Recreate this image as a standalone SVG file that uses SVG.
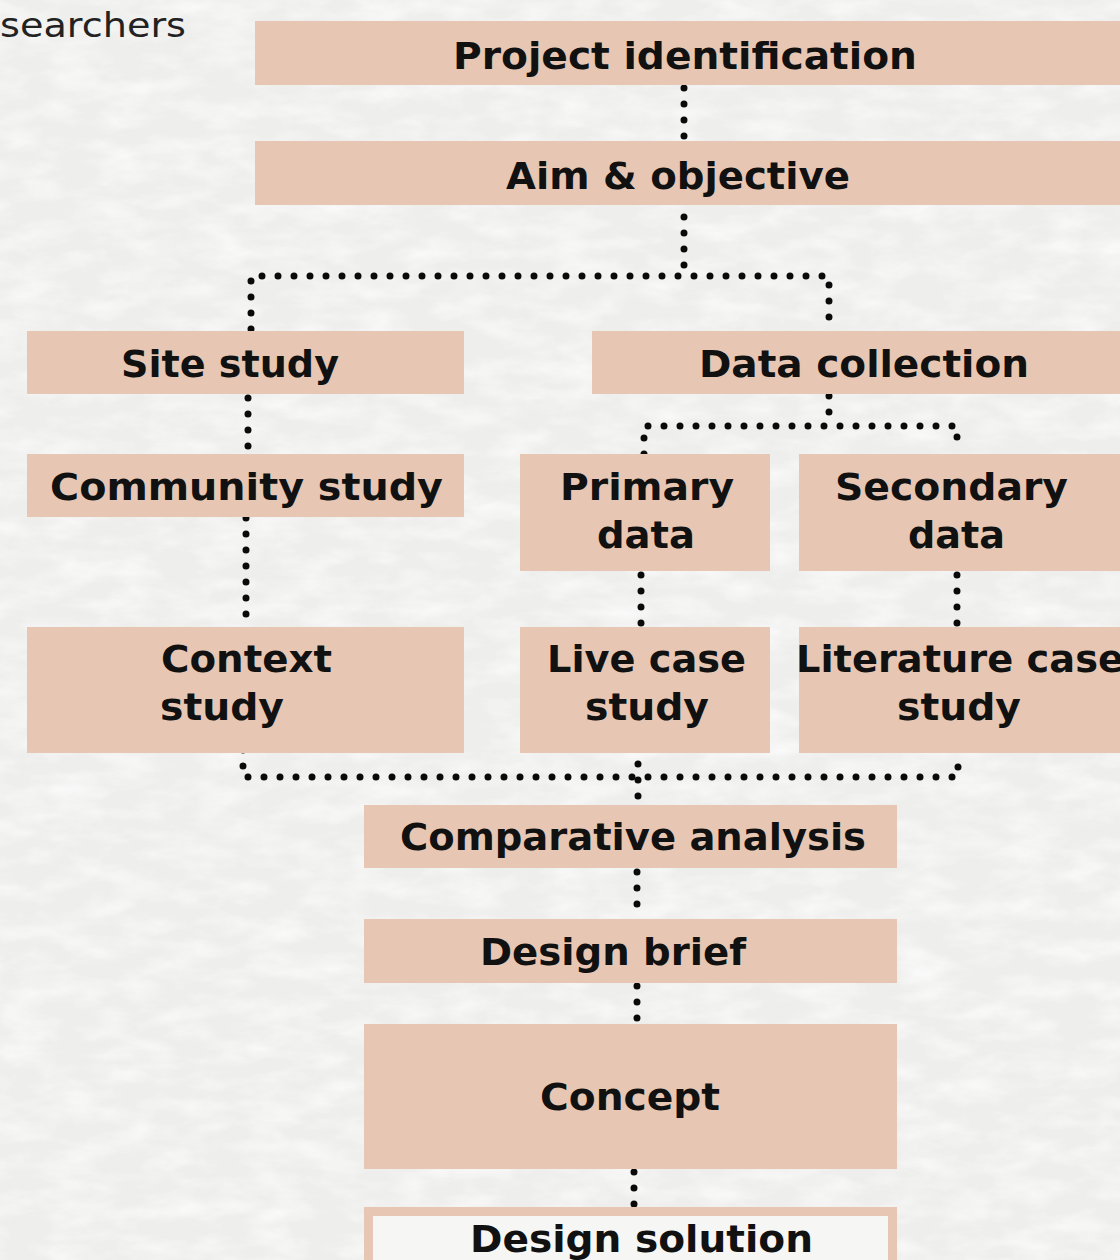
<svg xmlns="http://www.w3.org/2000/svg" width="1120" height="1260" viewBox="0 0 1120 1260">
  <defs>
    <filter id="paper" x="0" y="0" width="100%" height="100%">
      <feTurbulence type="fractalNoise" baseFrequency="0.02 0.05" numOctaves="4" seed="7" result="n"/>
      <feColorMatrix type="matrix" values="0 0 0 0 1  0 0 0 0 1  0 0 0 0 1  0 0 0 -1.6 1"/>
    </filter>
    <style>
      .box { fill: #e7c7b3; }
      .lbl { font-family: "DejaVu Sans", "Liberation Sans", sans-serif; font-weight: 700; font-size: 38px; fill: #111111; }
      .side { font-family: "DejaVu Sans", "Liberation Sans", sans-serif; font-weight: 400; font-size: 33px; fill: #222222; }
      .dots { fill: none; stroke: #0a0a0a; stroke-width: 7; stroke-linecap: round; stroke-dasharray: 0 16; }
    </style>
  </defs>

  <!-- paper background -->
  <rect width="1120" height="1260" fill="#eeeeed"/>
  <rect width="1120" height="1260" filter="url(#paper)" opacity="0.8"/>

  <text class="side" x="0" y="37" textLength="186" lengthAdjust="spacingAndGlyphs">searchers</text>

  <!-- dotted connectors -->
  <g id="connectors">
    <path class="dots" d="M684 88 V137"/>
    <path class="dots" d="M684 201 V276"/>
    <path class="dots" d="M251 329 V276 H829 V318"/>
    <path class="dots" d="M248 398 V447"/>
    <path class="dots" d="M246 518 V615"/>
    <path class="dots" d="M829 396 V426"/>
    <path class="dots" d="M644 454 V426 H957 V440"/>
    <path class="dots" d="M641 575 V624"/>
    <path class="dots" d="M957 575 V624"/>
    <path class="dots" d="M243 750 V777 H958 V765"/>
    <path class="dots" d="M638 748 V797"/>
    <path class="dots" d="M637 872 V905"/>
    <path class="dots" d="M637 986 V1019"/>
    <path class="dots" d="M634 1172 V1205"/>
  </g>

  <g id="project-identification">
    <rect class="box" x="255" y="21" width="865" height="64"/>
    <text class="lbl" x="453" y="69" textLength="464" lengthAdjust="spacingAndGlyphs">Project identification</text>
  </g>

  <g id="aim-objective">
    <rect class="box" x="255" y="141" width="865" height="64"/>
    <text class="lbl" x="506" y="189" textLength="344" lengthAdjust="spacingAndGlyphs">Aim &amp; objective</text>
  </g>

  <g id="site-study">
    <rect class="box" x="27" y="331" width="437" height="63"/>
    <text class="lbl" x="121" y="377" textLength="218" lengthAdjust="spacingAndGlyphs">Site study</text>
  </g>

  <g id="data-collection">
    <rect class="box" x="592" y="331" width="528" height="63"/>
    <text class="lbl" x="699" y="377" textLength="330" lengthAdjust="spacingAndGlyphs">Data collection</text>
  </g>

  <g id="community-study">
    <rect class="box" x="27" y="454" width="437" height="63"/>
    <text class="lbl" x="50" y="500" textLength="393" lengthAdjust="spacingAndGlyphs">Community study</text>
  </g>

  <g id="primary-data">
    <rect class="box" x="520" y="454" width="250" height="117"/>
    <text class="lbl" x="560" y="500" textLength="174" lengthAdjust="spacingAndGlyphs">Primary</text>
    <text class="lbl" x="597" y="548" textLength="98" lengthAdjust="spacingAndGlyphs">data</text>
  </g>

  <g id="secondary-data">
    <rect class="box" x="799" y="454" width="321" height="117"/>
    <text class="lbl" x="835" y="500" textLength="233" lengthAdjust="spacingAndGlyphs">Secondary</text>
    <text class="lbl" x="908" y="548" textLength="97" lengthAdjust="spacingAndGlyphs">data</text>
  </g>

  <g id="context-study">
    <rect class="box" x="27" y="627" width="437" height="126"/>
    <text class="lbl" x="161" y="672" textLength="171" lengthAdjust="spacingAndGlyphs">Context</text>
    <text class="lbl" x="160" y="720" textLength="124" lengthAdjust="spacingAndGlyphs">study</text>
  </g>

  <g id="live-case-study">
    <rect class="box" x="520" y="627" width="250" height="126"/>
    <text class="lbl" x="547" y="672" textLength="199" lengthAdjust="spacingAndGlyphs">Live case</text>
    <text class="lbl" x="585" y="720" textLength="124" lengthAdjust="spacingAndGlyphs">study</text>
  </g>

  <g id="literature-case-study">
    <rect class="box" x="799" y="627" width="321" height="126"/>
    <text class="lbl" x="796" y="672" textLength="328" lengthAdjust="spacingAndGlyphs">Literature case</text>
    <text class="lbl" x="897" y="720" textLength="124" lengthAdjust="spacingAndGlyphs">study</text>
  </g>

  <g id="comparative-analysis">
    <rect class="box" x="364" y="805" width="533" height="63"/>
    <text class="lbl" x="400" y="850" textLength="466" lengthAdjust="spacingAndGlyphs">Comparative analysis</text>
  </g>

  <g id="design-brief">
    <rect class="box" x="364" y="919" width="533" height="64"/>
    <text class="lbl" x="480" y="965" textLength="266" lengthAdjust="spacingAndGlyphs">Design brief</text>
  </g>

  <g id="concept">
    <rect class="box" x="364" y="1024" width="533" height="145"/>
    <text class="lbl" x="540" y="1110" textLength="180" lengthAdjust="spacingAndGlyphs">Concept</text>
  </g>

  <g id="design-solution">
    <rect x="368.5" y="1211.5" width="524" height="60" fill="#f6f6f5" stroke="#e7c7b3" stroke-width="9"/>
    <text class="lbl" x="470" y="1252" textLength="343" lengthAdjust="spacingAndGlyphs">Design solution</text>
  </g>
</svg>
